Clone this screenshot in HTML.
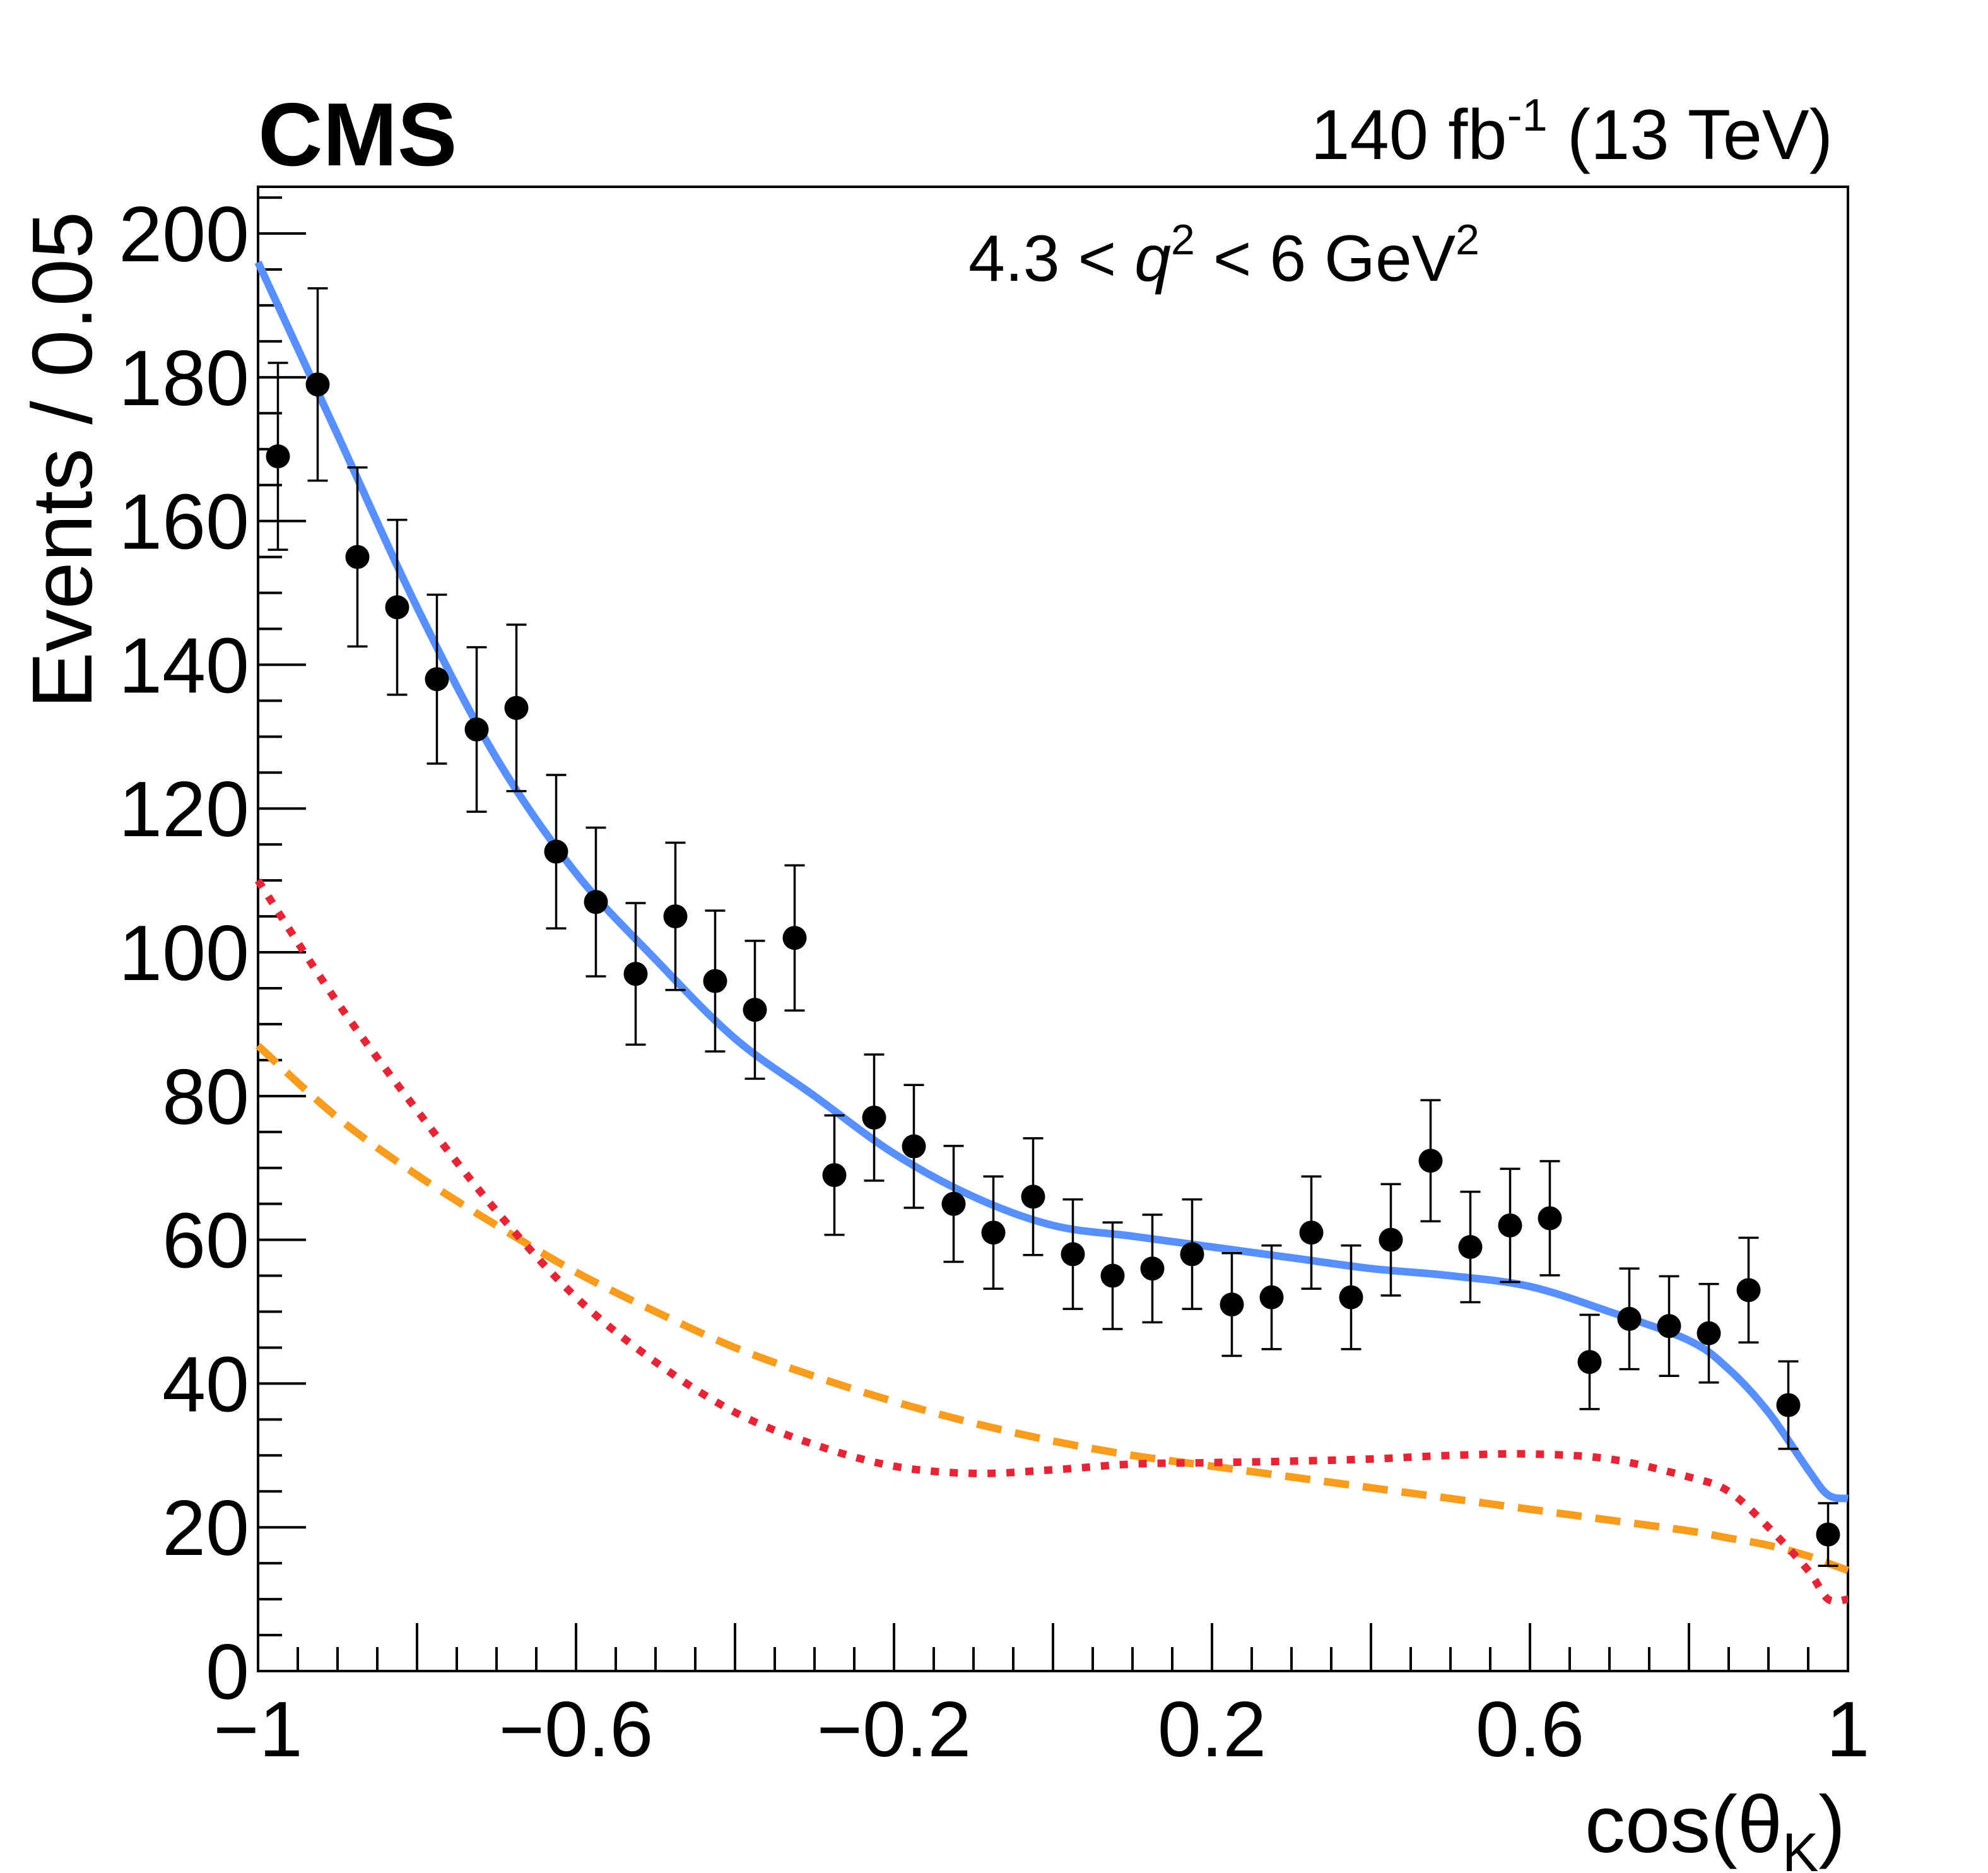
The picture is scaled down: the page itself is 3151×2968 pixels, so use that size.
<!DOCTYPE html>
<html><head><meta charset="utf-8"><style>
html,body{margin:0;padding:0;background:#fff}
svg{display:block}
text{font-family:"Liberation Sans",sans-serif;fill:#000}
</style></head><body>
<svg id="chart" width="3151" height="2968" viewBox="0 0 3151 2968">
<g id="axes"></g>
<g id="marks"></g>
<text x="409" y="262" font-size="142" font-weight="bold">CMS</text>
<text x="2905" y="252" font-size="112" text-anchor="end">140 fb<tspan dy="-45" font-size="72">-1</tspan><tspan dy="45"> (13 TeV)</tspan></text>
<text x="1940" y="445" font-size="104" text-anchor="middle">4.3 &lt; <tspan font-style="italic">q</tspan><tspan dy="-42" font-size="68">2</tspan><tspan dy="42"> &lt; 6 GeV</tspan><tspan dy="-42" font-size="68">2</tspan></text>
<text transform="translate(145,335) rotate(-90)" font-size="135" text-anchor="end">Events / 0.05</text>
<text x="2925" y="2935" font-size="128" text-anchor="end">cos(θ<tspan dy="30" font-size="86">K</tspan><tspan dy="-30">)</tspan></text>
</svg>
<script>
const binCenters=[-0.975,-0.925,-0.875,-0.825,-0.775,-0.725,-0.675,-0.625,-0.575,-0.525,-0.475,-0.425,-0.375,-0.325,-0.275,-0.225,-0.175,-0.125,-0.075,-0.025,0.025,0.075,0.125,0.175,0.225,0.275,0.325,0.375,0.425,0.475,0.525,0.575,0.625,0.675,0.725,0.775,0.825,0.875,0.925,0.975];
const counts=[169,179,155,148,138,131,134,114,107,97,105,96,92,102,69,77,73,65,61,66,58,55,56,58,51,52,61,52,60,71,59,62,63,43,49,48,47,53,37,19];
const curveX=[-1,-0.9,-0.8,-0.7,-0.6,-0.5,-0.4,-0.3,-0.2,-0.1,0,0.1,0.2,0.3,0.4,0.5,0.6,0.7,0.8,0.85,0.9,0.95,0.975,1];
const totalFit=[196,172,148,127,111,99,88,80,72,66,62,60.5,59,57.5,56,55,53.5,50,46,42,36,28,24.5,24];
const signalFit=[110,93,78,64,52,43,36,31.5,28.5,27.5,28,28.8,29,29.2,29.5,30,30.2,29.5,27,25,20,14,10,10];
const bkgFit=[87,77,69,62,55.5,50,45,41,37.5,34.5,32,30,28.5,27,25.5,24,22.5,21,19.5,18.5,17.5,16,15,14];
const yTicks=[0,20,40,60,80,100,120,140,160,180,200];
const xTickLabels=[-1,-0.6,-0.2,0.2,0.6,1];

const L=409,R=2929,T=296,B=2648,YMAX=206.5;
const sx=v=>L+(v+1)/2*(R-L);
const sy=v=>B-v/YMAX*(B-T);
const NS='http://www.w3.org/2000/svg';
function mk(tag,attrs,parent){const e=document.createElementNS(NS,tag);for(const k in attrs)e.setAttribute(k,attrs[k]);parent.appendChild(e);return e;}
const axes=document.getElementById('axes'),marks=document.getElementById('marks');

for(let v=0;v<=205;v+=5){
  const major=v%20===0,len=major?76:38;
  const t=mk('line',{x1:L,x2:L+len,y1:sy(v),y2:sy(v),stroke:'#000','stroke-width':4},axes);
  
  
}
yTicks.forEach(v=>{
  const t=mk('text',{x:L-14,y:sy(v)+44,'font-size':124,'text-anchor':'end'},axes);
  t.textContent=v;
  
  
});
for(let i=0;i<=40;i++){
  const v=-1+i*0.05,major=i%4===0,len=major?76:38;
  const t=mk('line',{x1:sx(v),x2:sx(v),y1:B,y2:B-len,stroke:'#000','stroke-width':4},axes);
  
  
}
xTickLabels.forEach(v=>{
  const t=mk('text',{x:sx(v),y:B+135,'font-size':124,'text-anchor':'middle'},axes);
  t.textContent=v<0?'\u2212'+Math.abs(v):String(v);
  
  
});
const fr=mk('rect',{x:L,y:T,width:R-L,height:B-T,fill:'none',stroke:'#000','stroke-width':4},axes);



function curve(ys,color,dash,w,name){
  const P=curveX.map((x,i)=>[sx(x),sy(ys[i])]);
  let d='M'+P[0][0].toFixed(1)+','+P[0][1].toFixed(1);
  for(let i=0;i<P.length-1;i++){
    const p0=P[Math.max(0,i-1)],p1=P[i],p2=P[i+1],p3=P[Math.min(P.length-1,i+2)];
    const c1=[p1[0]+(p2[0]-p0[0])/6,p1[1]+(p2[1]-p0[1])/6];
    const c2=[p2[0]-(p3[0]-p1[0])/6,p2[1]-(p3[1]-p1[1])/6];
    d+=' C'+c1.map(v=>v.toFixed(1))+' '+c2.map(v=>v.toFixed(1))+' '+p2.map(v=>v.toFixed(1));
  }
  const p=mk('path',{d:d,fill:'none',stroke:color,'stroke-width':w,'stroke-dasharray':dash||'none','stroke-linejoin':'round'},marks);
  
  
}
curve(bkgFit,'#f89c20','40,22',12,'background-fit-curve');
curve(signalFit,'#e42536','13,17',12,'signal-fit-curve');
curve(totalFit,'#5790fc',null,12,'total-fit-curve');

binCenters.forEach((x,i)=>{
  const n=counts[i],e=Math.sqrt(n),cx=sx(x);
  const g=mk('g',{},marks);
  
  
  mk('line',{x1:cx,x2:cx,y1:sy(n+e),y2:sy(n-e),stroke:'#000','stroke-width':3.5},g);
  mk('line',{x1:cx-16,x2:cx+16,y1:sy(n+e),y2:sy(n+e),stroke:'#000','stroke-width':3.5},g);
  mk('line',{x1:cx-16,x2:cx+16,y1:sy(n-e),y2:sy(n-e),stroke:'#000','stroke-width':3.5},g);
  mk('circle',{cx:cx,cy:sy(n),r:19,fill:'#000'},g);
});
</script>
</body></html>
